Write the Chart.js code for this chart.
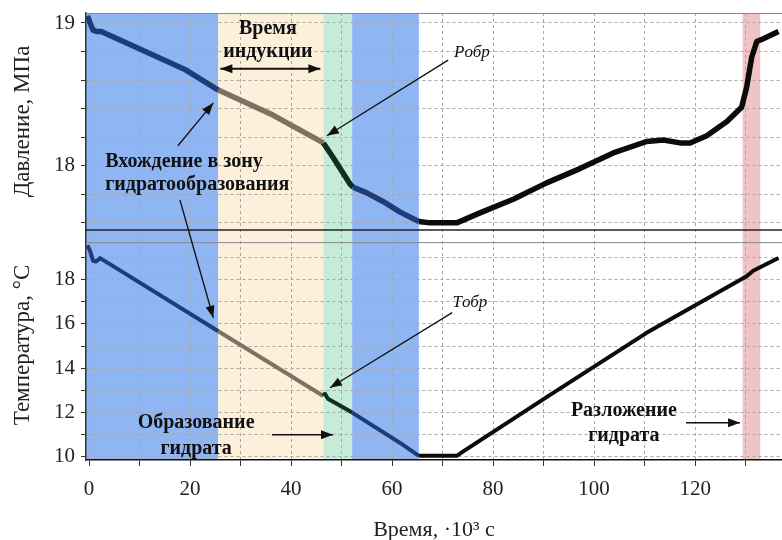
<!DOCTYPE html>
<html>
<head>
<meta charset="utf-8">
<script src="https://cdn.jsdelivr.net/npm/chart.js@4.4.1/dist/chart.umd.min.js"></script>
<style>
  body { margin: 0; background: #fff; }
  #wrap { width: 782px; height: 540px; }
</style>
</head>
<body>
<div id="wrap"><canvas id="chart"></canvas></div>
<script>
// time in 10^3 s
var pressureTime  = [-0.3, 0.2, 0.8, 1.5, 2.4, 9.3, 19.2, 25.6, 36.4, 46.4, 48.3, 51.7, 52.3, 55.0, 58.2, 61.6, 65.3, 67.5, 72.8, 77.4, 84.0, 90.6, 97.2, 103.8, 110.4, 113.7, 117.0, 119.0, 122.3, 126.3, 129.2, 130.2, 131.2, 132.2, 133.5, 136.5];
var pressureValue = [19.05, 19.0, 18.95, 18.94, 18.94, 18.83, 18.67, 18.53, 18.355, 18.16, 18.06, 17.87, 17.85, 17.81, 17.75, 17.675, 17.61, 17.6, 17.6, 17.67, 17.765, 17.88, 17.98, 18.09, 18.17, 18.18, 18.16, 18.16, 18.21, 18.31, 18.41, 18.55, 18.76, 18.87, 18.89, 18.94];

var tempTime  = [-0.3, 0.2, 0.8, 1.4, 2.2, 25.6, 46.4, 46.7, 47.3, 52.1, 61.6, 65.3, 72.8, 74.1, 90.6, 110.4, 130.2, 131.5, 136.5];
var tempValue = [19.55, 19.3, 18.85, 18.82, 18.97, 15.67, 12.75, 12.85, 12.62, 12.0, 10.63, 10.05, 10.05, 10.25, 12.7, 15.6, 18.15, 18.4, 18.98];

// experiment stages along the time axis
var bandFrom  = [-0.6, 25.6, 46.4, 52.1, 129.4];
var bandTo    = [25.6, 46.4, 52.1, 65.3, 132.9];
var bandStage = ['cool', 'induction', 'formation', 'cool', 'decomposition'];

var xTicks = [0, 10, 20, 30, 40, 50, 60, 70, 80, 90, 100, 110, 120, 130];
var pTicks = [17.6, 17.8, 18.0, 18.2, 18.4, 18.6, 18.8, 19.0];
var tTicks = [10, 11, 12, 13, 14, 15, 16, 17, 18, 19];

var stageFill = { cool: '#8fb5f3', induction: '#fdf0da', formation: '#c6ecd9', decomposition: '#f0c3c4' };
var stageLine = { cool: '#1c3d7a', induction: '#7b7260', formation: '#0f2f24', decomposition: '#0b0b0b', none: '#0b0b0b' };

function stageAt(t) {
  for (var i = 0; i < bandFrom.length; i++) {
    if (t >= bandFrom[i] && t <= bandTo[i]) return bandStage[i];
  }
  return 'none';
}
function segColor(ctx) {
  return stageLine[stageAt((ctx.p0.parsed.x + ctx.p1.parsed.x) / 2)];
}
function pairs(xs, ys) {
  return xs.map(function (v, i) { return { x: v, y: ys[i] }; });
}

var serif = 'Liberation Serif';

var bands = {
  id: 'bands',
  beforeDraw: function (chart) {
    var c = chart.ctx, a = chart.chartArea, x = chart.scales.x;
    c.save();
    c.fillStyle = '#fff';
    c.fillRect(0, 0, chart.width, chart.height);
    for (var i = 0; i < bandFrom.length; i++) {
      var x1 = Math.max(x.getPixelForValue(bandFrom[i]), a.left);
      var x2 = x.getPixelForValue(bandTo[i]);
      c.fillStyle = stageFill[bandStage[i]];
      c.fillRect(x1, a.top, x2 - x1, a.bottom - a.top);
    }
    c.restore();
  }
};

function arrowHead(c, x1, y1, x2, y2) {
  var ang = Math.atan2(y2 - y1, x2 - x1), L = 12, W = 4.5;
  c.beginPath();
  c.moveTo(x2, y2);
  c.lineTo(x2 - L * Math.cos(ang) + W * Math.sin(ang), y2 - L * Math.sin(ang) - W * Math.cos(ang));
  c.lineTo(x2 - L * Math.cos(ang) - W * Math.sin(ang), y2 - L * Math.sin(ang) + W * Math.cos(ang));
  c.closePath();
  c.fill();
}
function arrow(c, x1, y1, x2, y2, both) {
  c.beginPath();
  c.moveTo(x1, y1);
  c.lineTo(x2, y2);
  c.stroke();
  arrowHead(c, x1, y1, x2, y2);
  if (both) arrowHead(c, x2, y2, x1, y1);
}
// left-aligned text squeezed to a given width
function fitText(c, txt, x1, x2, y) {
  var k = (x2 - x1) / c.measureText(txt).width;
  c.save();
  c.translate(x1, y);
  c.scale(Math.min(k, 1), 1);
  c.fillText(txt, 0, 0);
  c.restore();
}

var notes = {
  id: 'notes',
  afterDatasetsDraw: function (chart) {
    var c = chart.ctx, a = chart.chartArea;
    var x = chart.scales.x, yP = chart.scales.yP, yT = chart.scales.yT;
    function X(t) { return x.getPixelForValue(t); }
    function P(v) { return yP.getPixelForValue(v); }
    function T(v) { return yT.getPixelForValue(v); }
    c.save();

    // panel frames
    c.lineWidth = 1;
    c.strokeStyle = '#888';
    c.beginPath(); c.moveTo(a.left, a.top + 0.5); c.lineTo(a.right, a.top + 0.5); c.stroke();
    c.beginPath(); c.moveTo(a.left, T(19.67)); c.lineTo(a.right, T(19.67)); c.stroke();
    c.strokeStyle = '#222';
    c.lineWidth = 1.5;
    c.beginPath(); c.moveTo(a.left, yP.bottom); c.lineTo(a.right, yP.bottom); c.stroke();

    c.fillStyle = '#111';
    c.strokeStyle = '#111';
    c.lineWidth = 1.3;
    c.textAlign = 'center';
    c.textBaseline = 'middle';

    c.font = 'bold 20px "' + serif + '"';
    c.fillText('Время', X(35.4), P(18.96));
    c.fillText('индукции', X(35.4), P(18.80));
    c.lineWidth = 2;
    arrow(c, X(26.0), P(18.68), X(45.8), P(18.68), true);
    c.lineWidth = 1.3;

    c.textAlign = 'left';
    fitText(c, 'Вхождение в зону', X(3.2), X(34.5), P(18.026));
    fitText(c, 'гидратообразования', X(3.2), X(40.2), P(17.865));
    arrow(c, X(17.6), P(18.14), X(24.6), P(18.44));
    arrow(c, X(18.0), P(17.76), X(24.6), T(16.28));

    c.textAlign = 'center';
    c.fillText('Образование', X(21.2), T(11.54));
    c.fillText('гидрата', X(21.2), T(10.37));
    arrow(c, X(36.2), T(11.0), X(48.3), T(11.0));

    c.fillText('Разложение', X(105.9), T(12.1));
    c.fillText('гидрата', X(105.9), T(10.97));
    arrow(c, X(118.2), T(11.54), X(128.9), T(11.54));

    c.font = 'italic 17px "' + serif + '"';
    c.fillText('Pобр', X(75.8), P(18.795));
    arrow(c, X(71.1), P(18.74), X(47.1), P(18.21));
    c.fillText('Tобр', X(75.4), T(16.96));
    arrow(c, X(71.9), T(16.51), X(47.7), T(13.12));

    c.restore();
  }
};

function isWhole(v) { return Math.abs(v - Math.round(v)) < 1e-6; }
function noPad(s) { s.paddingTop = 0; s.paddingBottom = 0; s.paddingLeft = 0; s.paddingRight = 0; }

var gridStyle = { color: '#a8a8a8', lineWidth: 1, tickLength: 5, tickColor: '#333', tickBorderDash: [] };
var tickFont = { family: serif, size: 21 };

var config = {
  type: 'line',
  data: {
    datasets: [{
      label: 'Давление',
      data: pairs(pressureTime, pressureValue),
      yAxisID: 'yP',
      borderWidth: 5.5,
      pointRadius: 0,
      tension: 0,
      borderJoinStyle: 'round',
      segment: { borderColor: segColor }
    }, {
      label: 'Температура',
      data: pairs(tempTime, tempValue),
      yAxisID: 'yT',
      borderWidth: 4,
      pointRadius: 0,
      tension: 0,
      borderJoinStyle: 'round',
      segment: { borderColor: segColor }
    }]
  },
  options: {
    responsive: true,
    maintainAspectRatio: false,
    animation: false,
    layout: { padding: { top: 13, right: 0, left: 0, bottom: 0 } },
    plugins: { legend: { display: false }, tooltip: { enabled: false } },
    scales: {
      x: {
        type: 'linear',
        min: -0.6,
        max: 137.2,
        afterBuildTicks: function (s) { s.ticks = xTicks.map(function (v) { return { value: v }; }); },
        afterFit: function (s) { s.height = 80; noPad(s); },
        ticks: {
          autoSkip: false, maxRotation: 0, padding: 11, color: '#222', font: tickFont,
          callback: function (v) { return v % 20 === 0 ? v : ''; }
        },
        grid: Object.assign({}, gridStyle, { tickLength: 6 }),
        border: { display: true, color: '#111', width: 1.5, dash: [3, 3] },
        title: { display: true, text: 'Время, ·10³ с', color: '#222', font: { family: serif, size: 22, lineHeight: 0.85 }, padding: { top: 14, bottom: 0 } }
      },
      yT: {
        type: 'linear',
        position: 'left',
        stack: 'panels',
        stackWeight: 230,
        min: 9.86,
        max: 20.24,
        afterBuildTicks: function (s) { s.ticks = tTicks.map(function (v) { return { value: v }; }); },
        afterFit: function (s) { s.width = 86; noPad(s); },
        ticks: {
          autoSkip: false, padding: 6, color: '#222', font: tickFont,
          callback: function (v) { return v % 2 === 0 ? v : ''; }
        },
        grid: gridStyle,
        border: { display: true, color: '#333', width: 1.5, dash: [3, 3] },
        title: { display: true, text: 'Температура, °C', color: '#222', font: { family: serif, size: 23 }, padding: { top: 9, bottom: 0 } }
      },
      yP: {
        type: 'linear',
        position: 'left',
        stack: 'panels',
        stackWeight: 217,
        min: 17.55,
        max: 19.07,
        afterBuildTicks: function (s) { s.ticks = pTicks.map(function (v) { return { value: v }; }); },
        afterFit: function (s) { s.width = 86; noPad(s); },
        ticks: {
          autoSkip: false, padding: 6, color: '#222', font: tickFont,
          callback: function (v) { return isWhole(v) ? Math.round(v) : ''; }
        },
        grid: gridStyle,
        border: { display: true, color: '#333', width: 1.5, dash: [3, 3] },
        title: { display: true, text: 'Давление, МПа', color: '#222', font: { family: serif, size: 23 }, padding: { top: 9, bottom: 0 } }
      }
    }
  },
  plugins: [bands, notes]
};

var ctx = document.getElementById('chart').getContext('2d');
window.myChart = new Chart(ctx, config);
</script>
</body>
</html>
